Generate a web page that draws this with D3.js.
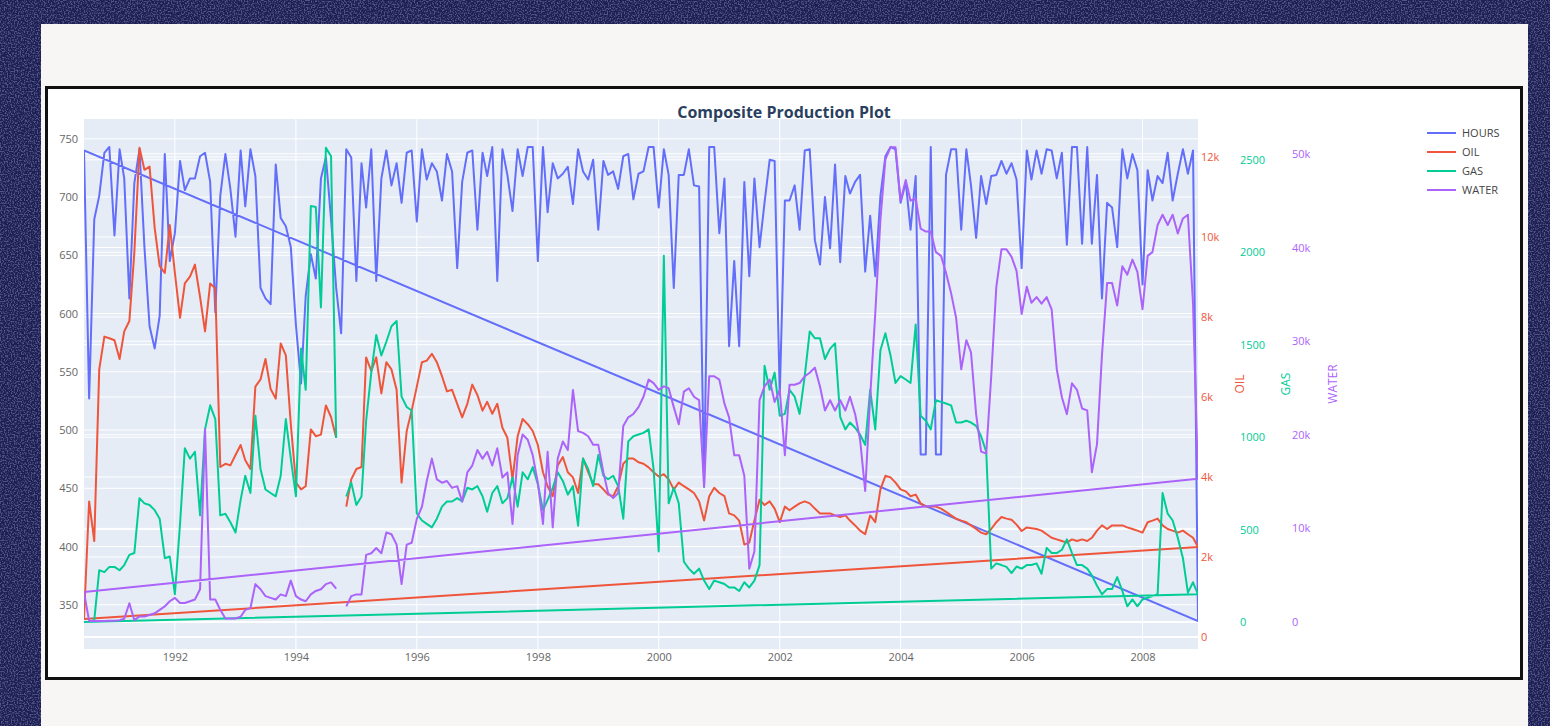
<!DOCTYPE html>
<html>
<head>
<meta charset="utf-8">
<script src="https://cdn.jsdelivr.net/npm/d3@7"></script>
<style>
  body { margin: 0; background: #1e2155; }
  svg { display: block; font-family: "Open Sans", sans-serif; }
</style>
</head>
<body>
<svg width="1550" height="726"></svg>
<script>
// ------------------------------  data  ----------
// monthly records, Jul 1990 .. Dec 2008 (null = missing month)
var startMonth = Date.UTC(1990, 6, 1);
var endMonth = Date.UTC(2009, 0, 1);

var hours = [
740,527,681,701,738,743,667,741,716,613,712,741,657,589,570,598,737,645,669,731,
706,716,716,735,738,713,601,701,737,707,666,740,692,741,718,622,613,608,728,682,
675,657,590,540,615,651,630,716,734,681,622,583,741,734,628,729,691,741,628,716,
740,710,729,695,738,740,679,741,715,729,722,697,737,722,639,713,738,740,672,738,
718,743,628,741,719,688,741,718,743,743,645,743,687,729,716,720,726,694,741,722,
715,732,672,731,719,722,707,735,737,698,720,722,743,743,691,741,719,622,719,719,
741,710,709,451,743,743,669,716,572,645,572,713,632,716,657,695,732,731,530,697,
697,710,672,740,741,663,642,700,656,728,644,718,703,713,719,636,684,632,701,735,
743,741,695,713,672,718,479,479,743,479,479,719,741,741,672,741,710,665,718,694,
718,719,731,720,729,715,639,740,715,740,720,741,740,716,738,659,743,743,660,743,
660,719,613,695,691,657,741,716,737,723,625,723,697,718,712,738,697,720,741,720,
740,336];

var oil = [
450,3390,2400,6690,7510,7470,7420,6950,7640,7900,9610,12230,11680,11760,10220,9270,9100,10300,9100,7980,
8840,9010,9310,8500,7640,8840,8710,4250,4330,4290,4550,4800,4420,4200,6260,6440,6950,6200,5960,7340,
7040,5320,3860,3690,3770,5190,5020,5060,5790,5500,4980,null,3260,3940,4200,4250,6990,6650,6990,6090,
6870,6690,6180,3860,5150,5660,6260,6870,6910,7080,6870,6520,6140,6180,5830,5490,5830,6310,6050,5660,
5880,5580,5830,5230,4980,3940,5020,5450,5320,5150,4800,4120,3770,3520,4290,4500,4120,3990,3600,4460,
4120,3820,3820,3690,3560,3520,3770,4330,4460,4460,4370,4330,4240,4120,4010,4070,3940,3690,3860,3770,
3690,3600,3390,2910,3520,3730,3600,3520,3090,3040,2910,2310,2360,2910,3430,3300,3390,3210,2870,3260,
3170,3260,3340,3390,3340,3210,3090,3090,3090,3040,3000,3040,2910,2790,2660,2570,3040,2870,3690,4030,
3990,3860,3690,3640,3520,3560,3340,3260,3260,3260,3210,3130,3040,2960,2910,2870,2790,2700,2610,2570,
2700,2870,3000,2960,2930,2810,2650,2740,2720,2700,2660,2570,2480,2440,2400,2360,2440,2400,2440,2400,
2480,2660,2790,2700,2790,2790,2790,2740,2700,2660,2610,2870,2910,2960,2790,2700,2660,2610,2660,2570,
2480,2250];

var gas = [
0,0,10,280,270,298,298,280,308,363,373,670,642,633,605,559,345,354,150,531,
940,884,921,577,1042,1172,1098,577,586,540,484,661,791,698,1116,828,717,698,680,791,
1098,884,680,1479,1256,2250,2245,1702,2566,2520,996,null,679,754,633,679,1089,1349,1553,1442,
1516,1600,1628,1219,1163,1144,587,549,531,512,559,624,652,652,670,652,726,717,735,680,
596,698,735,642,670,782,624,810,772,838,745,605,661,726,810,763,689,735,521,884,
828,735,903,791,772,791,735,559,977,1005,1014,1023,1042,828,382,1981,642,726,642,326,
289,261,289,224,178,224,215,206,187,187,168,215,187,224,308,1386,1256,1349,1116,1126,
1256,1219,1126,1330,1572,1535,1535,1423,1479,1507,1110,1042,1079,1051,1014,958,1256,1042,1470,1562,
1442,1293,1330,1312,1293,1609,1116,1089,1042,1200,1191,1182,1172,1079,1079,1089,1079,1061,1005,921,
289,317,308,298,265,300,289,308,308,317,261,401,373,373,391,447,373,308,308,289,
252,196,150,178,178,243,168,85,122,85,122,131,140,150,698,586,549,456,345,159,
215,150];

var water = [
3200,100,100,100,100,150,150,200,350,2000,200,600,600,750,930,1300,1670,2220,2580,2030,
2030,2220,2400,3500,20600,2400,2400,1300,380,380,380,560,1300,1480,4050,3500,2770,2580,2400,2950,
2770,4420,2770,2400,2220,2950,3320,3500,4050,4230,3570,null,1670,2770,2950,2950,7170,7350,7900,7350,
9560,9380,8270,4050,8270,8460,11020,12310,15060,17450,15240,14880,15060,14330,14510,12860,15980,16710,18370,17450,
18180,16710,18550,15430,15980,10480,17820,20020,19470,17820,14880,10480,18180,10110,17450,19280,18370,24790,20390,20200,
19840,18920,18920,15980,13780,13230,13780,20940,21860,22220,22950,24060,25890,25520,24790,25160,24970,22950,21120,24600,
24970,24060,23690,14500,26250,26250,25890,23320,21860,17820,17820,15610,5700,7540,23690,25160,25890,23500,24790,17820,
25340,25340,25520,26250,26620,27170,25160,22590,23690,22590,23690,22590,24060,22220,19500,14000,24000,33000,43000,49400,
50700,50700,45000,47200,45000,45200,42000,41700,41700,39500,39100,37300,35100,32500,27000,30100,28800,22200,18200,18000,
26200,35800,39800,39800,39000,37500,32900,35800,34100,34700,34000,34700,33400,27000,24000,22200,25500,24800,22800,22600,
16000,19000,28500,36200,36200,33800,38000,37100,38700,37400,33400,39100,39500,42400,43500,42400,43500,41500,43100,43500,
34000,15300];

var seriesNames = ["HOURS", "OIL", "GAS", "WATER"];
var seriesColors = ["#636efa", "#EF553B", "#00cc96", "#ab63fa"];

var hoursTicks = [350, 400, 450, 500, 550, 600, 650, 700, 750];
var oilTicks = [0, 2000, 4000, 6000, 8000, 10000, 12000];
var gasTicks = [0, 500, 1000, 1500, 2000, 2500];
var waterTicks = [0, 10000, 20000, 30000, 40000, 50000];
var yearTicks = [1992, 1994, 1996, 1998, 2000, 2002, 2004, 2006, 2008];

// ------------------------------  layout  ----------
var svg = d3.select("svg");
var plotL = 84, plotR = 1198, plotT = 119, plotB = 649;

// faint speckle over the navy backdrop
var speckle = svg.append("defs").append("filter").attr("id", "speckle")
    .attr("x", 0).attr("y", 0).attr("width", "100%").attr("height", "100%");
speckle.append("feTurbulence")
       .attr("type", "fractalNoise").attr("baseFrequency", 0.7)
       .attr("numOctaves", 1).attr("seed", 3).attr("result", "noise");
speckle.append("feColorMatrix")
       .attr("in", "noise").attr("type", "matrix")
       .attr("values", "0 0 0 0 0.45  0 0 0 0 0.48  0 0 0 0 0.8  0 0 0 -5 2.7");

svg.append("rect").attr("width", 1550).attr("height", 726).attr("fill", "#1d1f52");
svg.append("rect").attr("width", 1550).attr("height", 726)
   .attr("filter", "url(#speckle)").style("opacity", 0.35);
svg.append("rect").attr("x", 41).attr("y", 24).attr("width", 1487).attr("height", 710).attr("fill", "#f7f6f4");
svg.append("rect")
   .attr("x", 46.5).attr("y", 87.5)
   .attr("width", 1475).attr("height", 591)
   .attr("fill", "#fff")
   .style("stroke", "#111")
   .style("stroke-width", 3);

svg.append("rect")
   .attr("x", plotL).attr("y", plotT)
   .attr("width", plotR - plotL).attr("height", plotB - plotT)
   .attr("fill", "#e5ecf6");

// rows: the first record shows up again at the end of the file, so the trace closes
var dates = d3.utcMonth.range(startMonth, endMonth);
var rows = dates.map((d, i) => ({date: d, vals: [hours[i], oil[i], gas[i], water[i]]}));
rows.push(rows[0]);

// ------------------------------  scales  ----------
var x = d3.scaleUtc().domain([dates[0], dates[dates.length - 1]]).range([plotL, plotR]);
var yScales = [
    d3.scaleLinear().domain([312, 767]).range([plotB, plotT]),
    d3.scaleLinear().domain([-300, 12950]).range([plotB, plotT]),
    d3.scaleLinear().domain([-146, 2721]).range([plotB, plotT]),
    d3.scaleLinear().domain([-2880, 53720]).range([plotB, plotT])
];
var tickSets = [hoursTicks, oilTicks, gasTicks, waterTicks];

// ------------------------------  grid  ----------
var grid = svg.append("g");
tickSets.forEach((ticks, k) => {
    grid.selectAll(null)
        .data(ticks)
        .enter().append("line")
        .attr("x1", plotL).attr("x2", plotR)
        .attr("y1", d => yScales[k](d)).attr("y2", d => yScales[k](d))
        .style("stroke", "#fff")
        .style("stroke-width", d => (d === 0 && k > 0) ? 2 : 1);
});
grid.selectAll(null)
    .data(yearTicks)
    .enter().append("line")
    .attr("x1", d => x(new Date(Date.UTC(d, 0, 1))))
    .attr("x2", d => x(new Date(Date.UTC(d, 0, 1))))
    .attr("y1", plotT).attr("y2", plotB)
    .style("stroke", "#fff");

// ------------------------------  axes  ----------
function styleAxis(g, color) {
    g.select(".domain").remove();
    g.selectAll("text").style("fill", color).style("font-size", "11px").style("font-family", "Open Sans");
}

svg.append("g")
   .attr("transform", "translate(" + plotL + ",0)")
   .call(d3.axisLeft(yScales[0]).tickValues(hoursTicks).tickSize(0).tickPadding(6))
   .call(g => styleAxis(g, "#666"));

svg.append("g")
   .attr("transform", "translate(0," + plotB + ")")
   .call(d3.axisBottom(x)
       .tickValues(yearTicks.map(d => new Date(Date.UTC(d, 0, 1))))
       .tickFormat(d3.utcFormat("%Y"))
       .tickSize(0).tickPadding(4))
   .call(g => styleAxis(g, "#666"));

var rightAxes = [
    {k: 1, at: plotR, pad: 3, fmt: d3.format("~s")},
    {k: 2, at: 1240, pad: 0, fmt: d3.format("d")},
    {k: 3, at: 1292, pad: 0, fmt: d3.format("~s")}
];
rightAxes.forEach(a => {
    svg.append("g")
       .attr("transform", "translate(" + a.at + ",0)")
       .call(d3.axisRight(yScales[a.k]).tickValues(tickSets[a.k]).tickFormat(a.fmt).tickSize(0).tickPadding(a.pad))
       .call(g => styleAxis(g, seriesColors[a.k]));
});

var axisTitles = [{k: 1, x: 1240}, {k: 2, x: 1286}, {k: 3, x: 1333}];
axisTitles.forEach(t => {
    svg.append("text")
       .attr("transform", "translate(" + t.x + ",384) rotate(-90)")
       .attr("text-anchor", "middle")
       .attr("dy", "0.35em")
       .style("font-size", "12px")
       .style("fill", seriesColors[t.k])
       .text(seriesNames[t.k]);
});

// ------------------------------  lines  ----------
svg.append("clipPath").attr("id", "plotclip")
   .append("rect")
   .attr("x", plotL).attr("y", plotT)
   .attr("width", plotR - plotL).attr("height", plotB - plotT);

var lines = svg.append("g").attr("clip-path", "url(#plotclip)");
seriesNames.forEach((name, k) => {
    var line = d3.line()
        .defined(d => d.vals[k] != null)
        .x(d => x(d.date))
        .y(d => yScales[k](d.vals[k]));
    lines.append("path")
         .datum(rows)
         .attr("d", line)
         .style("fill", "none")
         .style("stroke", seriesColors[k])
         .style("stroke-width", 2)
         .style("stroke-linejoin", "round");
});

// ------------------------------  title & legend  ----------
svg.append("text")
   .attr("x", 784).attr("y", 118)
   .attr("text-anchor", "middle")
   .style("font-size", "16px")
   .style("font-weight", "bold")
   .style("fill", "#2a3f5f")
   .text("Composite Production Plot");

var legend = svg.selectAll(".legend")
    .data(seriesNames)
    .enter().append("g")
    .attr("class", "legend")
    .attr("transform", (d, i) => "translate(1427," + (133 + i * 19) + ")");
legend.append("line")
      .attr("x1", 0).attr("x2", 29)
      .style("stroke", (d, i) => seriesColors[i])
      .style("stroke-width", 2);
legend.append("text")
      .attr("x", 35).attr("dy", "0.35em")
      .style("font-size", "11px")
      .style("fill", "#444")
      .text(d => d);
</script>
</body>
</html>
